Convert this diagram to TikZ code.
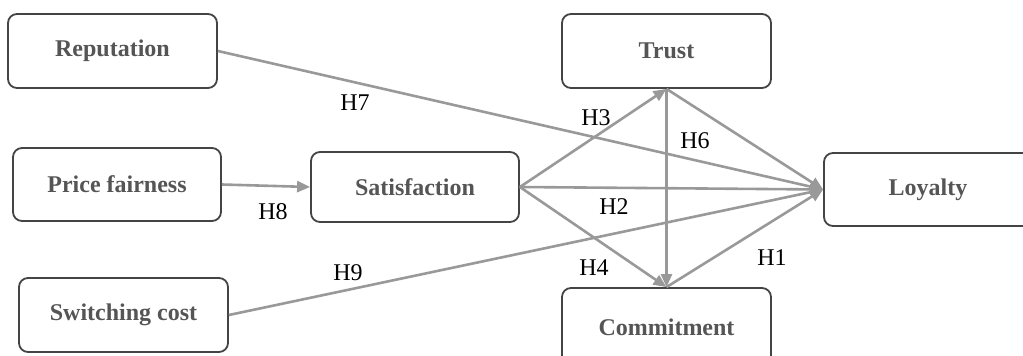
\documentclass[tikz,border=0pt]{standalone}
\usepackage{fontspec}
\setmainfont{Liberation Serif}
\usetikzlibrary{arrows.meta}
\definecolor{boxline}{HTML}{444444}
\definecolor{boxtext}{HTML}{555555}
\definecolor{arrowc}{HTML}{999999}
\tikzset{
  box/.style={draw=boxline, line width=1.8pt, rounded corners=9pt, fill=white,
    text=boxtext, font=\fontsize{24}{27}\selectfont\bfseries, inner sep=0pt},
  link/.style={draw=arrowc, line width=2.6pt, -{Triangle[length=13pt,width=11pt]}},
  hlab/.style={font=\fontsize{24}{26}\selectfont, text=black, inner sep=0pt}
}
\begin{document}
\begin{tikzpicture}[x=1pt,y=-1pt]
\useasboundingbox (0,0) rectangle (1023,356);
\node[box, minimum width=209pt, minimum height=74pt] (rep) at (112.5,51) {Reputation};
\node[box, minimum width=208pt, minimum height=73pt] (price) at (117,184.5) {Price fairness};
\node[box, minimum width=209pt, minimum height=74pt] (switch) at (123.5,315) {Switching cost};
\node[box, minimum width=208pt, minimum height=70pt] (sat) at (415,187) {Satisfaction};
\node[box, minimum width=209pt, minimum height=74pt] (trust) at (666.5,51) {Trust};
\node[box, minimum width=209pt, minimum height=78pt] (comm) at (666.5,327) {Commitment};
\node[box, minimum width=208pt, minimum height=73pt] (loy) at (928,189.5) {Loyalty};

\draw[link] (rep.east) -- (loy.west);
\draw[link] (price.east) -- (sat.west);
\draw[link] (switch.east) -- (loy.west);
\draw[link] (sat.east) -- (trust.south);
\draw[link] (sat.east) -- (comm.north);
\draw[link] (sat.east) -- (loy.west);
\draw[link] (trust.south) -- (comm.north);
\draw[link] (trust.south) -- (loy.west);
\draw[link] (comm.north) -- (loy.west);

\node[hlab] (h7) at (355,103) {H7};
\node[hlab] (h3) at (596,118) {H3};
\node[hlab] (h6) at (695,141) {H6};
\node[hlab] (h8) at (273,212) {H8};
\node[hlab] (h2) at (614,207) {H2};
\node[hlab] (h4) at (594,268) {H4};
\node[hlab] (h1) at (772,258) {H1};
\node[hlab] (h9) at (348,273) {H9};
\end{tikzpicture}
\end{document}
